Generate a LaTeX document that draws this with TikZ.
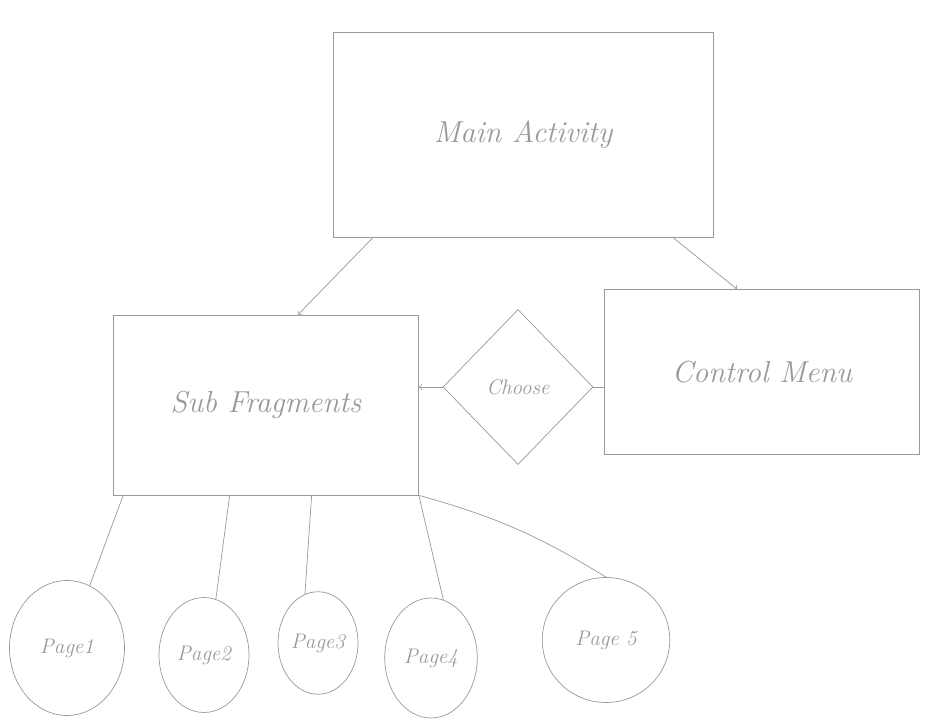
\documentclass[tikz,border=0pt]{standalone}
\usepackage{tikz}
\usetikzlibrary{shapes.geometric}

\tikzset{
	box/.style={draw=gray!80, thin, text=gray!80, font=\LARGE\itshape},
	choice/.style={draw=gray!80, thin, diamond, inner sep=0pt, text=gray!80, font=\large\itshape},
	page/.style={draw=gray!80, thin, ellipse, inner sep=0pt, text=gray!80, font=\large\itshape},
	link/.style={gray!80, thin}
}

\begin{document}
\begin{tikzpicture}[x=0.02cm, y=-0.02cm]
	\useasboundingbox (0,0) rectangle (926,722);
	% boxes
	\node[box, minimum width=7.6cm, minimum height=4.1cm] (main) at (523,135) {Main Activity};
	\node[box, minimum width=6.1cm, minimum height=3.6cm] (sub) at (266,405) {Sub Fragments};
	\node[box, minimum width=6.3cm, minimum height=3.3cm] (ctrl) at (762,372) {Control Menu};
	\node[choice, minimum width=3cm, minimum height=3.1cm] (choose) at (518,387) {Choose};
	% pages
	\node[page, minimum width=2.3cm, minimum height=2.7cm] (p1) at (67,648) {Page1};
	\node[page, minimum width=1.8cm, minimum height=2.3cm] (p2) at (204,655) {Page2};
	\node[page, minimum width=1.6cm, minimum height=2.05cm] (p3) at (318,643) {Page3};
	\node[page, minimum width=1.85cm, minimum height=2.4cm] (p4) at (431,658) {Page4};
	\node[page, minimum width=2.55cm, minimum height=2.5cm] (p5) at (606,640) {Page 5};
	% links
	\draw[link, ->] ([xshift=0.8cm]main.south west) -- ([xshift=0.64cm]sub.north);
	\draw[link, ->] ([xshift=-0.8cm]main.south east) -- ([xshift=-0.5cm]ctrl.north);
	\draw[link, ->] (choose.west) -- (choose.west -| sub.east);
	\draw[link] (choose.east) -- (choose.east -| ctrl.west);
	\draw[link] ([xshift=0.2cm]sub.south west) -- (p1.70);
	\draw[link] ([xshift=2.33cm]sub.south west) -- (p2.78);
	\draw[link] ([xshift=3.97cm]sub.south west) -- (p3.105);
	\draw[link] (sub.south east) -- (p4.78);
	\draw[link] (sub.south east) to[bend left=8] (p5.north);
\end{tikzpicture}
\end{document}
